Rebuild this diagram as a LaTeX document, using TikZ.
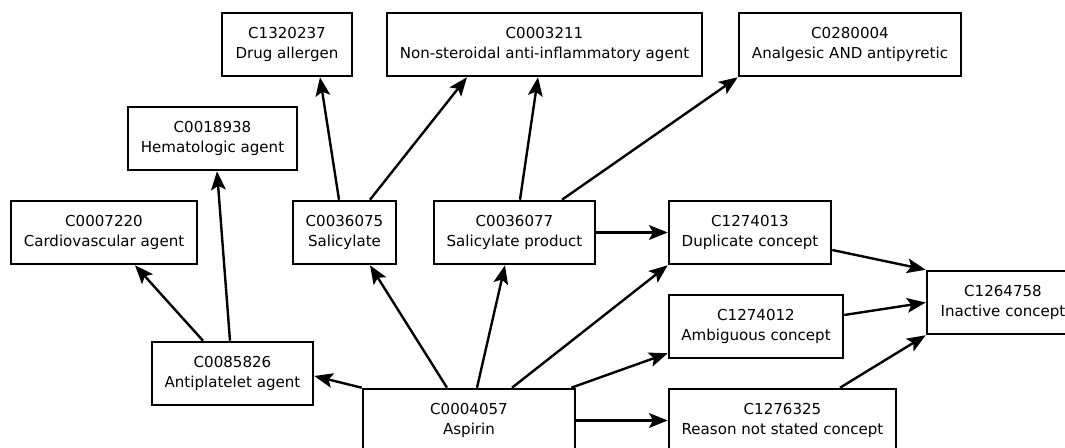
\documentclass[tikz,border=0pt]{standalone}
\usepackage{fontspec}
\setmainfont{DejaVu Sans}
\usetikzlibrary{arrows.meta,calc}
\tikzset{
  concept/.style={draw,rectangle,line width=1.9pt,minimum width=#1*0.75pt,
    minimum height=47.25pt,inner sep=2pt,align=center,
    font=\fontsize{11.3}{14.5}\selectfont},
  link/.style={line width=1.8pt,-{Stealth[length=14pt,width=11pt,inset=3pt]}}
}
\begin{document}
\begin{tikzpicture}[x=0.75pt,y=-0.75pt]
\useasboundingbox (0,0) rectangle (1065,448);
% top row
\node[concept=130] (allergen) at (287,44.5) {C1320237\\Drug allergen};
\node[concept=315] (nsaid) at (544.5,44.5) {C0003211\\Non-steroidal anti-inflammatory agent};
\node[concept=222] (analgesic) at (850,44.5) {C0280004\\Analgesic AND antipyretic};
\node[concept=169] (hemato) at (212.5,138.5) {C0018938\\Hematologic agent};
% middle row
\node[concept=186] (cardio) at (104,232.5) {C0007220\\Cardiovascular agent};
\node[concept=103] (salicylate) at (344.5,232.5) {C0036075\\Salicylate};
\node[concept=161] (salprod) at (514.5,232.5) {C0036077\\Salicylate product};
\node[concept=162] (duplicate) at (750,232.5) {C1274013\\Duplicate concept};
\node[concept=174] (ambiguous) at (756,326.5) {C1274012\\Ambiguous concept};
\node[concept=152] (inactive) at (1003,302.5) {C1264758\\Inactive concept};
% bottom row
\node[concept=161] (antiplatelet) at (232.5,373.5) {C0085826\\Antiplatelet agent};
\node[concept=212] (aspirin) at (469,420.5) {C0004057\\Aspirin};
\node[concept=227] (reason) at (782.5,420.5) {C1276325\\Reason not stated concept};

\draw[link] ($(antiplatelet.north)+(-29.5,0)$) -- ($(cardio.south)+(31,0)$);
\draw[link] ($(antiplatelet.north)+(-2.5,0)$) -- ($(hemato.south)+(4.5,0)$);
\draw[link] (aspirin.north west) -- ($(antiplatelet.east)+(0,2.5)$);
\draw[link] ($(aspirin.north)+(-22,0)$) -- ($(salicylate.south)+(25.5,0)$);
\draw[link] ($(aspirin.north)+(8,0)$) -- ($(salprod.south)+(-9.5,0)$);
\draw[link] ($(aspirin.north)+(43,0)$) -- (duplicate.south west);
\draw[link] ($(aspirin.north east)+(-5,0)$) -- ($(ambiguous.south west)+(0,-6)$);
\draw[link] (aspirin.east) -- (reason.west);
\draw[link] ($(salicylate.north)+(-5.5,0)$) -- ($(allergen.south)+(33,0)$);
\draw[link] ($(salicylate.north)+(25.5,0)$) -- ($(nsaid.south)+(-77.5,0)$);
\draw[link] ($(salprod.north)+(5.5,0)$) -- ($(nsaid.south)+(-6.5,0)$);
\draw[link] ($(salprod.north)+(47.5,0)$) -- (analgesic.south west);
\draw[link] (salprod.east) -- (duplicate.west);
\draw[link] ($(duplicate.east)+(0,17.5)$) -- (inactive.north west);
\draw[link] ($(ambiguous.east)+(0,-11.5)$) -- (inactive.west);
\draw[link] ($(reason.north)+(57.5,0)$) -- (inactive.south west);
\end{tikzpicture}
\end{document}
